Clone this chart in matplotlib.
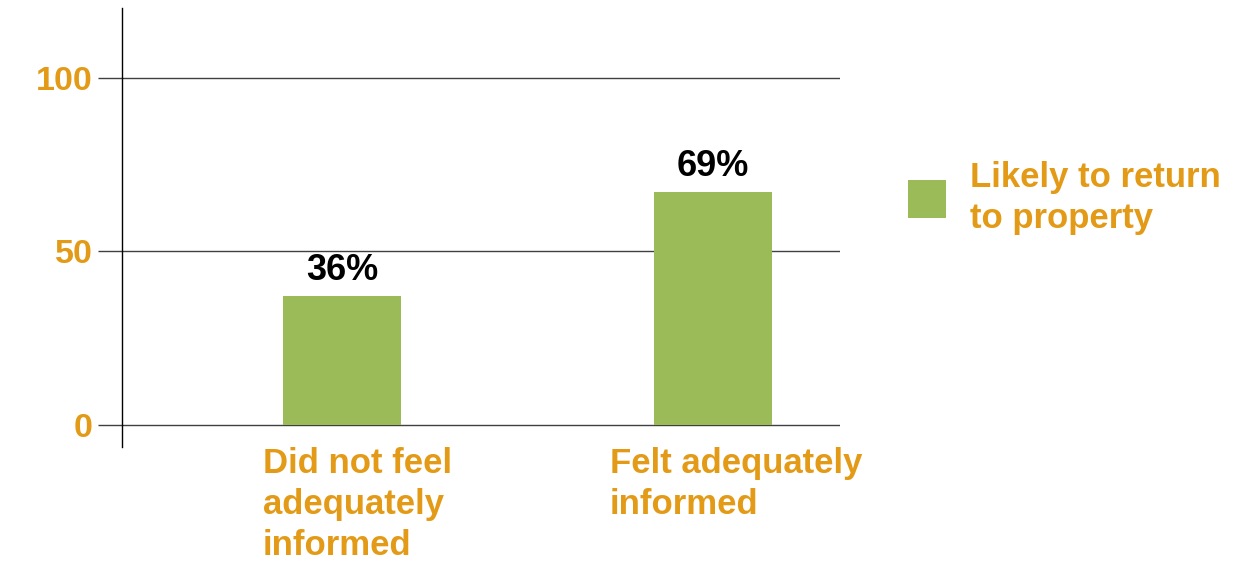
import matplotlib
matplotlib.use("Agg")
import matplotlib.pyplot as plt
from matplotlib.patches import Patch

plt.rcParams['font.family'] = ['Liberation Sans', 'DejaVu Sans']

categories = ["Did not feel\nadequately\ninformed", "Felt adequately\ninformed"]
values = [37, 67]
value_labels = ["36%", "69%"]
series_name = "Likely to return\nto property"
yticks = [0, 50, 100]

GREEN = "#9BBB59"
ORANGE = "#E39A17"
GRID = "#404040"

fig = plt.figure(figsize=(12.36, 5.63), dpi=100)
ax = fig.add_axes([122/1236, (563-447)/563, (840-122)/1236, (447-8)/563])

x = list(range(len(categories)))
bars = ax.bar(x, values, width=0.318, color=GREEN, zorder=3)
ax.set_xlim(-0.593, 1.342)
ax.set_ylim(-6.3, 120)

for b, lab in zip(bars, value_labels):
    ax.annotate(lab, (b.get_x() + b.get_width()/2, b.get_height()),
                xytext=(0, 6), textcoords="offset points", ha="center", va="bottom",
                fontsize=26, fontweight="bold", color="black")

ax.set_yticks(yticks)
ax.set_yticklabels([str(t) for t in yticks], fontsize=24.5, fontweight="bold", color=ORANGE)
ax.tick_params(axis="y", length=17.5, width=1, color=GRID, pad=3.6)
for t in yticks:
    ax.axhline(t, color=GRID, lw=1, zorder=1)

ax.set_xticks([])
for s in ["top", "right", "bottom"]:
    ax.spines[s].set_visible(False)
ax.spines["left"].set_color("black")
ax.spines["left"].set_linewidth(1)

offsets = [-0.213, -0.278]
for xi, lab, off in zip(x, categories, offsets):
    ax.text(xi + off, -6.3, lab, ha="left", va="top", fontsize=25, fontweight="bold",
            color=ORANGE, linespacing=1.31, clip_on=False)

handle = Patch(facecolor=GREEN, edgecolor="none")
leg = fig.legend([handle], [series_name], loc="center left",
                 bbox_to_anchor=(908/1236, 1 - 198/563), frameon=False,
                 prop={"size": 25, "weight": "bold"}, labelcolor=ORANGE,
                 handlelength=1.1, handleheight=1.3, handletextpad=0.69,
                 borderaxespad=0, borderpad=0)
for t in leg.get_texts():
    t.set_linespacing(1.31)

fig.savefig("out.png", dpi=100)
